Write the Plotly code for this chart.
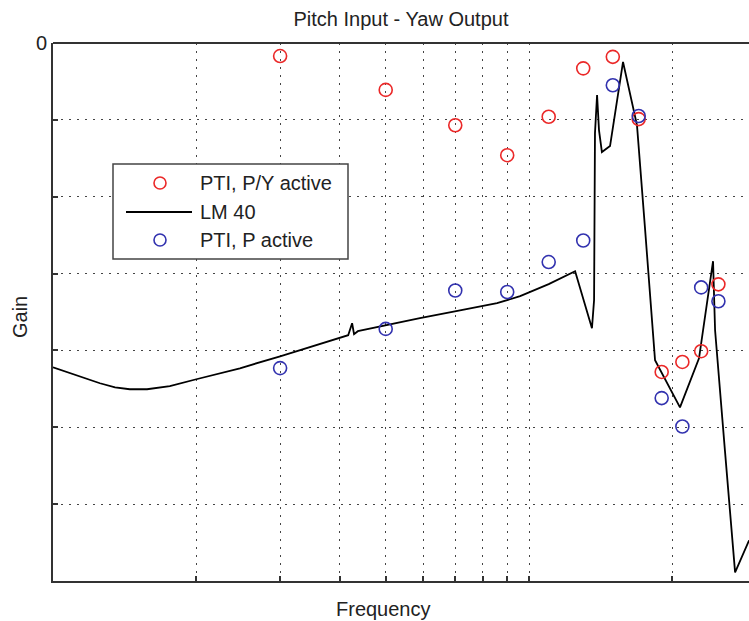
import plotly.graph_objects as go

# ---------------- data ----------------
freq_pts = [3, 5, 7, 9, 11, 13, 15, 17, 19, 21, 23, 25]
gain_py_active = [-1.7, -6.1, -10.7, -14.6, -9.6, -3.3, -1.8, -9.9, -42.8, -41.5, -40.1, -31.4]
gain_p_active = [-42.3, -37.2, -32.2, -32.4, -28.5, -25.7, -5.5, -9.5, -46.2, -49.9, -31.8, -33.6]

lm40_freq = [1.0, 1.14, 1.255, 1.35, 1.45, 1.576, 1.76, 2.0, 2.47, 3.0, 4.01, 4.17, 4.25, 4.29, 4.37,
             5.0, 5.9, 7.03, 8.57, 9.58, 11.0, 12.5, 13.56, 13.7, 13.76, 13.9, 14.03, 14.23,
             14.8, 15.76, 16.86, 17.52, 18.4, 20.76, 22.76, 24.36, 24.6, 25.8, 27.1, 29.0]
lm40_gain = [-42.19, -43.36, -44.27, -44.8, -45.05, -45.05, -44.66, -43.75, -42.32, -40.76, -38.41,
             -38.02, -36.46, -37.89, -37.5, -36.72, -35.81, -34.9, -33.85, -32.94, -31.38,
             -29.69, -37.11, -33.46, -11.72, -6.77, -11.33, -14.19, -13.41, -2.47, -10.68,
             -23.96, -41.28, -47.4, -41.02, -28.39, -37.37, -53.0, -68.88, -64.71]

x_grid = [2, 3, 4, 5, 6, 7, 8, 9, 10, 20]
y_ticks = [-70, -60, -50, -40, -30, -20, -10, 0]
y_labels = ["", "", "", "", "", "", "", "0"]

legend_names = ["PTI, P/Y active", "LM 40", "PTI, P active"]

RED = "rgb(235,40,40)"
BLUE = "rgb(50,50,175)"
FONT = "Liberation Sans, Arial, sans-serif"

fig = go.Figure()
fig.add_trace(go.Scatter(x=lm40_freq, y=lm40_gain, mode="lines", name=legend_names[1],
                         line=dict(color="black", width=1.8), showlegend=False))
fig.add_trace(go.Scatter(x=freq_pts, y=gain_py_active, mode="markers", name=legend_names[0],
                         marker=dict(symbol="circle-open", size=13, color=RED, line=dict(width=1.6)),
                         showlegend=False))
fig.add_trace(go.Scatter(x=freq_pts, y=gain_p_active, mode="markers", name=legend_names[2],
                         marker=dict(symbol="circle-open", size=13, color=BLUE, line=dict(width=1.6)),
                         showlegend=False))

W, H = 749, 621
L, R, T, B = 53, 0, 43, 40
pw, ph = W - L - R, H - T - B

def px(xp):
    return (xp - L) / pw

def py(yp):
    return (H - B - yp) / ph

fig.update_layout(
    width=W, height=H,
    margin=dict(l=L, r=R, t=T, b=B),
    paper_bgcolor="white", plot_bgcolor="white",
    font=dict(family=FONT, size=20, color="#222"),
    showlegend=False,
    title=dict(text="Pitch Input - Yaw Output", x=px(401), xref="paper", xanchor="center",
               y=1 - 19 / H, yanchor="middle", font=dict(size=20, color="#222")),
)

fig.update_xaxes(type="log", range=[0, 1.4622], showline=True, linecolor="#333", linewidth=2,
                 mirror=False, ticks="inside", ticklen=5, tickcolor="#333", tickwidth=1.5,
                 tickvals=x_grid, ticktext=[""] * len(x_grid),
                 showgrid=True, gridcolor="#444", gridwidth=1, griddash="2px,6px",
                 zeroline=False)
fig.update_yaxes(range=[-70, 0], showline=True, linecolor="#333", linewidth=2, mirror=False,
                 ticks="inside", ticklen=5, tickcolor="#333", tickwidth=1.5,
                 tickvals=y_ticks, ticktext=y_labels, tickfont=dict(size=20, color="#222"),
                 showgrid=True, gridcolor="#444", gridwidth=1, griddash="2px,6px",
                 zeroline=False)

shapes = [
    # top border
    dict(type="line", xref="paper", yref="paper", x0=0, x1=1, y0=1, y1=1,
         line=dict(color="#333", width=2), layer="above"),
    # legend box
    dict(type="rect", xref="paper", yref="paper", x0=px(113), x1=px(348), y0=py(259), y1=py(164),
         fillcolor="white", line=dict(color="#444", width=1.5), layer="above"),
    # legend line sample
    dict(type="line", xref="paper", yref="paper", x0=px(126), x1=px(192), y0=py(212), y1=py(212),
         line=dict(color="black", width=1.8), layer="above"),
]
for yy, col in [(183, RED), (240, BLUE)]:
    shapes.append(dict(type="circle", xref="paper", yref="paper", xsizemode="pixel", ysizemode="pixel",
                       xanchor=px(160), yanchor=py(yy), x0=-6, x1=6, y0=-6, y1=6,
                       line=dict(color=col, width=1.6), layer="above"))
fig.update_layout(shapes=shapes)

annotations = []
for name, yy in zip(legend_names, [183, 212, 240]):
    annotations.append(dict(text=name, xref="paper", yref="paper", x=px(198), y=py(yy),
                            xanchor="left", yanchor="middle", showarrow=False,
                            font=dict(size=20, color="#222")))
annotations.append(dict(text="Frequency", xref="paper", yref="paper", x=px(383), y=0, yshift=-28,
                        xanchor="center", yanchor="middle", showarrow=False,
                        font=dict(size=20, color="#222")))
annotations.append(dict(text="Gain", xref="paper", yref="paper", x=0, xshift=-33, y=py(317),
                        xanchor="center", yanchor="middle", textangle=-90, showarrow=False,
                        font=dict(size=20, color="#222")))
fig.update_layout(annotations=annotations)

fig.write_html("out.html")
